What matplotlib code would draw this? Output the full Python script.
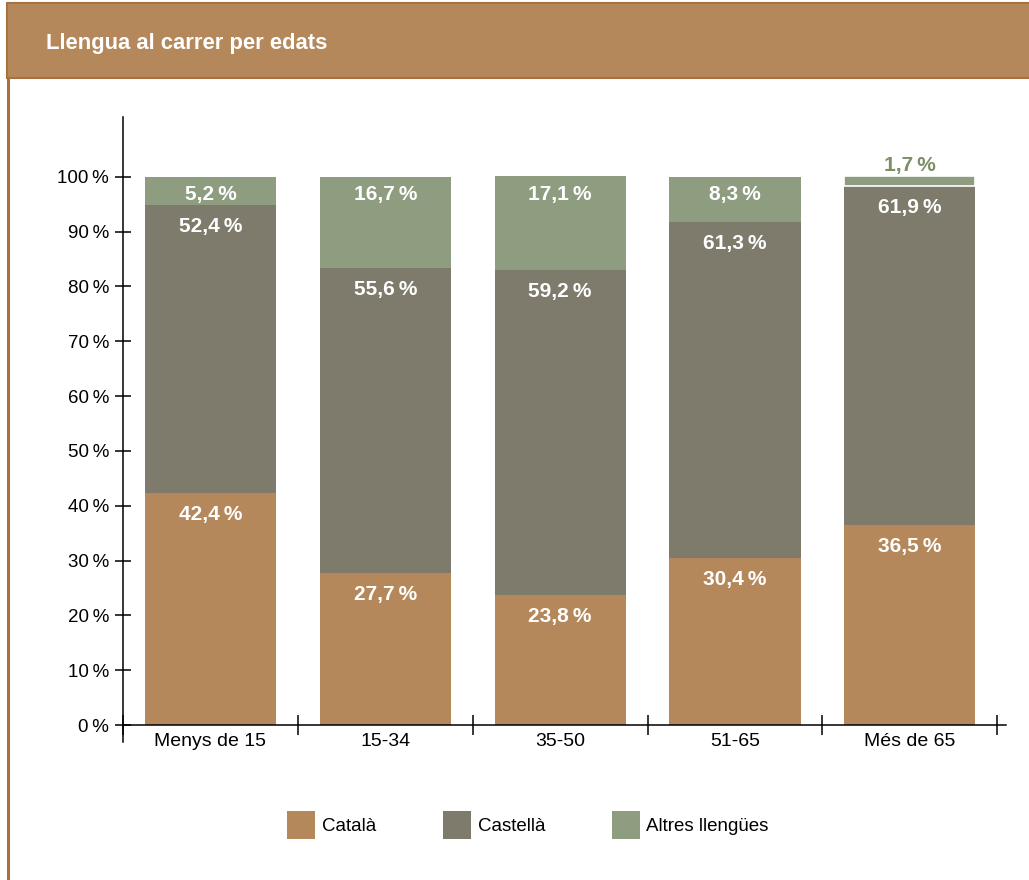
import numpy as np
import matplotlib.pyplot as plt
from matplotlib.patches import Rectangle, Patch
from matplotlib.lines import Line2D

plt.rcParams['font.family'] = ['Liberation Sans', 'DejaVu Sans']

# Language spoken in the street, by age group (%)
ages = ["Menys de 15", "15-34", "35-50", "51-65", "Més de 65"]
catala = [42.4, 27.7, 23.8, 30.4, 36.5]
castella = [52.4, 55.6, 59.2, 61.3, 61.9]
altres = [5.2, 16.7, 17.1, 8.3, 1.7]

series_names = ["Català", "Castellà", "Altres llengües"]
colors = ["#b5885b", "#7e7b6c", "#8e9c80"]

W, H = 1029, 880
fig = plt.figure(figsize=(W / 100, H / 100), dpi=100)

# header band and left frame line
brown = "#b5885b"
edge = "#a8723f"
fig.patches.append(Rectangle((7 / W, 1 - 78 / H), 1.0, 75 / H, transform=fig.transFigure,
                             facecolor=brown, edgecolor=edge, linewidth=1.5, zorder=0))
fig.lines.append(Line2D([7.5 / W, 7.5 / W], [0, 1 - 78 / H], transform=fig.transFigure,
                        color=edge, linewidth=2.2))
fig.text(46 / W, 1 - 43 / H, "Llengua al carrer per edats", color="white",
         fontsize=15.8, fontweight="bold", va="center", ha="left")

ax = fig.add_axes([123 / W, 138 / H, (1006 - 123) / W, (742 - 117) / H])
x = np.arange(len(ages))
width = 0.75

cat = np.array(catala)
cas = np.array(castella)
alt = np.array(altres)
ax.bar(x, cat, width, color=colors[0], linewidth=0)
ax.bar(x, cas, width, bottom=cat, color=colors[1], linewidth=0)
bars_alt = ax.bar(x, alt, width, bottom=cat + cas, color=colors[2], linewidth=0)
# thin white separation on the tiny top segment
bars_alt[-1].set_edgecolor("white")
bars_alt[-1].set_linewidth(1.2)

# value labels just below the top of each segment
for i in range(len(ages)):
    tops = [cat[i], cat[i] + cas[i], cat[i] + cas[i] + alt[i]]
    vals = [cat[i], cas[i], alt[i]]
    for j, (t, v) in enumerate(zip(tops, vals)):
        txt = f"{v:.1f}".replace(".", ",") + "\u2009%"
        if v < 3:
            ax.annotate(txt, (x[i], t), xytext=(0, 8), textcoords="offset points",
                        ha="center", va="center", color="#7a8f66",
                        fontsize=15, fontweight="bold")
        else:
            off = -13 if j == 2 else -15.5
            ax.annotate(txt, (x[i], t), xytext=(0, off), textcoords="offset points",
                        ha="center", va="center", color="white",
                        fontsize=15, fontweight="bold")

ax.set_xlim(-0.5, 4.55)
ax.set_ylim(-3.1, 110.9)

for s in ["top", "right"]:
    ax.spines[s].set_visible(False)
ax.spines["bottom"].set_position(("data", 0))
ax.spines["left"].set_linewidth(1.1)
ax.spines["bottom"].set_linewidth(1.1)

yt = np.arange(0, 101, 10)
ax.set_yticks(yt)
ax.set_yticklabels([f"{v}\u2009%" for v in yt])
ax.tick_params(axis="y", direction="inout", length=12, width=1.1, labelsize=13.5, pad=4)

ax.set_xticks(x)
ax.set_xticklabels(ages)
ax.tick_params(axis="x", which="major", length=0, labelsize=14, pad=6)
ax.set_xticks(np.arange(-0.5, 4.6, 1.0), minor=True)
ax.tick_params(axis="x", which="minor", direction="inout", length=14.5, width=1.1)

handles = [Patch(facecolor=c, edgecolor="none") for c in colors]
fig.legend(handles, series_names, loc="center", bbox_to_anchor=(528 / W, 1 - 825 / H),
           ncol=3, frameon=False, fontsize=13.5, handlelength=1.5, handleheight=2.0,
           handletextpad=0.35, columnspacing=3.55)

fig.savefig("out.png", dpi=100)
